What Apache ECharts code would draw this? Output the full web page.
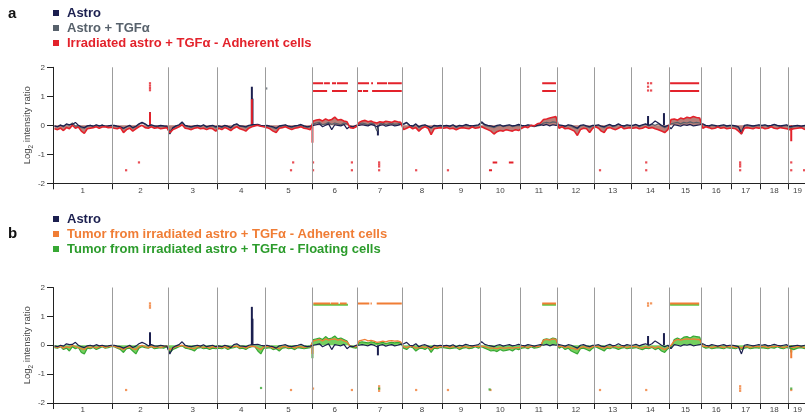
<!DOCTYPE html>
<html><head><meta charset="utf-8">
<script src="https://cdn.jsdelivr.net/npm/echarts@6/dist/echarts.min.js"></script>
<style>html,body{margin:0;padding:0;background:#fff}#c{width:805px;height:414px}</style>
</head><body><div id="c"></div>
<script>
// ---------- data ----------
const chromosomes = ['1','2','3','4','5','6','7','8','9','10','11','12','13','14','15','16','17','18','19'];
const chromLengthMb = [195,182,160,157,152,150,145,130,125,131,122,120,121,125,104,98,95,91,61];
const xMaxMb = 2458;
const yTickValues = [-2,-1,0,1,2];

// log2 ratio profiles, one list per chromosome (values spread evenly along each chromosome)
const astro = [
 [-0.02,-0.05,0.0,-0.03,0.05,0.02,0.03,0.1,0.0,-0.05,-0.08,-0.02,0.0,-0.03,0.02,-0.02,0.0,-0.03,-0.02,0.0],
 [0.0,-0.03,-0.05,-0.1,-0.05,0.0,-0.08,-0.03,0.05,0.1,0.05,-0.02,0.02,-0.02,-0.03,0.0,-0.02,-0.03],
 [-0.3,-0.08,-0.02,0.02,0.12,0.0,-0.03,-0.05,-0.02,0.0,-0.03,0.02,-0.05,-0.02,0.0,-0.05],
 [-0.02,-0.05,0.0,-0.03,-0.08,0.02,0.05,-0.02,-0.03,-0.05,0.0,0.02,0.02,0.03,0.0,-0.02],
 [0.0,-0.03,-0.05,-0.1,-0.02,0.0,0.02,-0.03,-0.05,-0.02,0.0,0.03,-0.02,-0.05,-0.03],
 [0.0,0.02,0.05,-0.05,0.0,0.05,-0.15,0.02,0.0,-0.02,0.03,-0.12,-0.03,-0.05,0.0],
 [0.0,0.02,0.0,-0.02,0.03,0.0,-0.05,0.0,0.02,-0.03,0.0,0.02,-0.02,0.0,0.03],
 [0.05,0.1,0.0,-0.02,0.05,-0.05,0.0,0.02,-0.03,-0.08,0.0,-0.02,0.0],
 [-0.02,0.0,-0.03,0.02,-0.05,0.0,-0.02,0.03,0.0,-0.02,0.0,0.02],
 [0.12,0.03,0.0,-0.02,-0.05,0.0,0.02,-0.03,0.0,0.02,-0.02,0.0,0.03],
 [0.0,-0.02,0.02,0.0,-0.03,0.0,0.02,0.0,0.03,-0.02,0.02,0.0],
 [0.02,0.0,-0.03,0.02,0.0,-0.05,-0.1,0.0,0.02,-0.02,-0.05,0.0],
 [0.0,0.02,-0.03,-0.05,0.0,0.03,-0.02,0.0,0.05,0.0,-0.02,0.02,0.0],
 [0.0,0.03,-0.02,0.02,0.05,0.0,0.05,0.15,0.08,0.0,-0.05,0.0],
 [-0.12,0.02,0.0,-0.03,0.02,0.0,0.03,-0.02,0.0,0.02],
 [0.05,0.0,-0.02,0.02,0.0,-0.03,0.0,0.02,-0.02,0.0],
 [0.0,-0.02,-0.05,-0.3,0.0,0.02,0.0,-0.02,0.0,0.02],
 [0.0,0.02,-0.02,0.0,0.03,0.0,-0.02,0.0,0.02],
 [-0.05,-0.02,0.0,-0.03,0.0]
];
const astroTgf = [
 [-0.03,-0.05,0.02,-0.05,0.03,0.0,0.08,-0.03,-0.02,-0.08,-0.1,-0.03,0.0,-0.05,0.0,-0.03,0.02,-0.05,-0.03,-0.02],
 [-0.02,-0.05,-0.08,-0.12,-0.05,-0.02,-0.1,-0.05,0.03,0.08,0.03,-0.03,0.0,-0.03,-0.05,-0.02,-0.03,-0.05],
 [-0.2,-0.1,-0.03,0.0,0.08,-0.02,-0.05,-0.08,-0.03,-0.02,-0.05,0.0,-0.08,-0.03,-0.02,-0.08],
 [-0.03,-0.08,-0.02,-0.05,-0.1,0.0,0.03,-0.03,-0.05,-0.08,-0.02,0.0,0.02,0.0,-0.03,-0.05],
 [-0.02,-0.05,-0.08,-0.12,-0.05,-0.02,0.0,-0.05,-0.08,-0.03,-0.02,0.0,-0.05,-0.08,-0.05],
 [0.05,0.08,0.1,0.02,0.05,0.1,0.03,0.08,0.05,0.02,0.08,0.05,-0.05,-0.08,-0.03],
 [0.05,0.08,0.05,0.02,0.08,0.05,-0.2,0.05,0.08,0.02,0.05,0.08,0.03,0.05,0.08],
 [0.03,0.08,-0.02,-0.05,0.03,-0.08,-0.02,0.0,-0.05,-0.1,-0.02,-0.05,-0.02],
 [-0.03,-0.02,-0.05,0.0,-0.08,-0.02,-0.03,0.0,-0.02,-0.05,-0.02,0.0],
 [0.08,0.0,-0.03,-0.05,-0.08,-0.03,0.0,-0.05,-0.02,0.0,-0.05,-0.02,0.0],
 [-0.02,-0.05,0.0,-0.02,-0.05,-0.02,0.0,0.08,0.1,0.08,0.12,0.1],
 [0.0,-0.02,-0.05,0.0,-0.03,-0.08,-0.12,-0.02,0.0,-0.05,-0.08,-0.02],
 [-0.02,0.0,-0.05,-0.08,-0.02,0.02,-0.05,-0.02,0.03,-0.02,-0.05,0.0,-0.02],
 [-0.02,0.02,-0.05,0.0,0.03,-0.02,0.03,0.0,0.05,-0.02,-0.08,-0.02],
 [0.05,0.08,0.1,0.05,0.1,0.08,0.12,0.08,0.1,0.08],
 [0.02,-0.02,-0.05,0.0,-0.02,-0.05,-0.02,0.0,-0.05,-0.02],
 [-0.02,-0.05,-0.08,-0.2,-0.02,0.0,-0.02,-0.05,-0.02,0.0],
 [-0.02,0.0,-0.05,-0.02,0.02,-0.02,-0.05,-0.02,0.0],
 [-0.08,-0.05,-0.02,-0.05,-0.02]
];
const irradAdherent = [
 [-0.12,-0.15,-0.1,-0.18,-0.08,-0.12,0.0,-0.1,-0.06,-0.2,-0.28,-0.12,-0.1,-0.08,-0.05,-0.1,-0.06,-0.05,-0.08,-0.07],
 [-0.1,-0.12,-0.08,-0.25,-0.15,-0.1,-0.2,-0.12,-0.05,0.0,-0.08,-0.1,-0.05,-0.1,-0.08,-0.12,-0.1,-0.08],
 [-0.25,-0.15,-0.1,-0.05,0.02,-0.1,-0.12,-0.15,-0.1,-0.08,-0.12,-0.1,-0.15,-0.1,-0.12,-0.2],
 [-0.1,-0.15,-0.08,-0.12,-0.18,-0.1,-0.05,-0.12,-0.15,-0.2,-0.1,-0.05,-0.02,0.0,-0.03,-0.05],
 [-0.08,-0.12,-0.2,-0.25,-0.1,-0.08,-0.05,-0.1,-0.15,-0.1,-0.08,-0.05,-0.1,-0.12,-0.15],
 [0.15,0.18,0.2,0.15,0.22,0.17,0.2,0.28,0.18,0.2,0.15,0.12,-0.08,-0.1,-0.05],
 [0.1,0.15,0.17,0.12,0.15,0.1,0.08,0.12,0.1,0.14,0.12,0.1,0.15,0.12,0.1],
 [-0.15,-0.1,-0.05,-0.12,-0.08,-0.2,-0.1,-0.05,-0.1,-0.32,-0.12,-0.1,-0.08],
 [-0.1,-0.08,-0.12,-0.1,-0.15,-0.1,-0.08,-0.1,-0.12,-0.06,-0.1,-0.08],
 [-0.05,-0.1,-0.15,-0.2,-0.3,-0.22,-0.18,-0.2,-0.15,-0.18,-0.2,-0.15,-0.18],
 [-0.1,-0.05,-0.08,0.0,-0.02,0.05,0.08,0.2,0.22,0.25,0.28,0.3],
 [-0.1,-0.05,-0.12,-0.1,-0.15,-0.2,-0.35,-0.15,-0.1,-0.12,-0.25,-0.1],
 [-0.05,-0.1,-0.2,-0.25,-0.1,-0.08,-0.12,-0.15,-0.1,-0.05,-0.12,-0.1,-0.08],
 [-0.1,-0.08,-0.12,-0.1,-0.05,-0.1,-0.08,-0.12,-0.15,-0.2,-0.25,-0.15],
 [0.2,0.22,0.18,0.25,0.22,0.28,0.25,0.3,0.27,0.25],
 [-0.1,-0.05,-0.08,-0.12,-0.1,-0.06,-0.1,-0.08,-0.12,-0.1],
 [-0.1,-0.12,-0.2,-0.3,-0.1,-0.08,-0.1,-0.12,-0.08,-0.1],
 [-0.08,-0.12,-0.1,-0.05,-0.1,-0.12,-0.08,-0.1,-0.12],
 [-0.15,-0.12,-0.1,-0.08,-0.15]
];
const tumorAdherent = [
 [-0.05,-0.08,-0.03,-0.1,-0.05,-0.08,0.0,-0.05,-0.08,-0.12,-0.15,-0.05,-0.08,-0.05,-0.1,-0.05,-0.03,-0.08,-0.05,-0.03],
 [-0.03,-0.08,-0.1,-0.15,-0.08,-0.05,-0.12,-0.15,-0.05,0.0,-0.05,-0.08,-0.03,-0.08,-0.05,-0.08,-0.05,-0.03],
 [-0.15,-0.1,-0.05,-0.03,0.0,-0.05,-0.08,-0.1,-0.12,-0.05,-0.05,-0.08,-0.05,-0.1,-0.05,-0.08],
 [-0.05,-0.08,-0.05,-0.1,-0.05,-0.05,-0.03,-0.08,-0.05,-0.1,-0.05,-0.03,-0.05,-0.1,-0.15,-0.05],
 [-0.05,-0.05,-0.1,-0.08,-0.12,-0.05,-0.05,-0.08,-0.05,-0.1,-0.05,-0.05,-0.08,-0.05,-0.05],
 [0.15,0.18,0.2,0.15,0.22,0.18,0.2,0.22,0.18,0.2,0.15,0.12,-0.03,-0.05,-0.05],
 [0.15,0.18,0.2,0.15,0.17,0.14,0.1,0.12,0.14,0.12,0.15,0.16,0.14,0.15,0.12],
 [-0.05,-0.08,-0.03,-0.05,-0.1,-0.08,-0.05,-0.08,-0.05,-0.15,-0.05,-0.08,-0.05],
 [-0.05,-0.05,-0.08,-0.05,-0.05,-0.1,-0.05,-0.05,-0.08,-0.05,-0.03,-0.05],
 [-0.03,-0.05,-0.08,-0.1,-0.1,-0.12,-0.08,-0.1,-0.1,-0.08,-0.1,-0.08,-0.08],
 [-0.05,-0.05,-0.08,-0.03,-0.05,-0.05,-0.03,0.18,0.2,0.18,0.22,0.2],
 [-0.05,-0.03,-0.08,-0.05,-0.1,-0.12,-0.15,-0.08,-0.05,-0.08,-0.1,-0.05],
 [-0.03,-0.05,-0.08,-0.1,-0.05,-0.08,-0.05,-0.05,-0.08,-0.05,-0.05,-0.08,-0.05],
 [-0.05,-0.05,-0.08,-0.1,-0.05,-0.08,-0.05,-0.1,-0.05,-0.1,-0.15,-0.08],
 [0.0,0.15,0.2,0.18,0.2,0.22,0.2,0.22,0.2,0.2],
 [-0.03,-0.05,-0.05,-0.08,-0.05,-0.05,-0.05,-0.08,-0.05,-0.05],
 [-0.05,-0.08,-0.05,-0.1,-0.05,-0.05,-0.08,-0.05,-0.05,-0.05],
 [-0.05,-0.05,-0.08,-0.05,-0.05,-0.03,-0.05,-0.08,-0.05],
 [-0.05,-0.08,-0.05,-0.05,-0.08]
];
const tumorFloating = [
 [-0.08,-0.1,-0.05,-0.15,-0.1,-0.2,-0.05,-0.12,-0.08,-0.25,-0.3,-0.1,-0.12,-0.08,-0.15,-0.1,-0.05,-0.1,-0.08,-0.05],
 [-0.05,-0.1,-0.15,-0.25,-0.12,-0.1,-0.2,-0.3,-0.1,-0.05,-0.08,-0.1,-0.05,-0.12,-0.1,-0.08,-0.1,-0.05],
 [-0.25,-0.15,-0.1,-0.05,-0.02,-0.1,-0.12,-0.15,-0.2,-0.1,-0.08,-0.12,-0.1,-0.15,-0.1,-0.12],
 [-0.1,-0.12,-0.08,-0.15,-0.1,-0.08,-0.05,-0.12,-0.1,-0.15,-0.08,-0.05,-0.05,-0.2,-0.3,-0.1],
 [-0.1,-0.08,-0.15,-0.12,-0.2,-0.1,-0.08,-0.12,-0.1,-0.15,-0.08,-0.1,-0.12,-0.1,-0.08],
 [0.2,0.22,0.25,0.2,0.3,0.22,0.25,0.32,0.22,0.25,0.2,0.15,-0.05,-0.08,-0.1],
 [0.1,0.12,0.1,0.08,0.12,0.1,0.05,0.08,0.1,0.06,0.08,0.1,0.08,0.1,0.08],
 [-0.1,-0.15,-0.05,-0.08,-0.2,-0.12,-0.1,-0.15,-0.08,-0.25,-0.1,-0.12,-0.08],
 [-0.08,-0.1,-0.12,-0.1,-0.08,-0.15,-0.1,-0.08,-0.12,-0.1,-0.05,-0.1],
 [-0.05,-0.1,-0.15,-0.2,-0.18,-0.22,-0.15,-0.2,-0.18,-0.15,-0.2,-0.12,-0.15],
 [-0.1,-0.08,-0.12,-0.05,-0.1,-0.08,-0.05,0.2,0.22,0.2,0.25,0.22],
 [-0.1,-0.05,-0.15,-0.1,-0.2,-0.25,-0.3,-0.12,-0.1,-0.15,-0.2,-0.1],
 [-0.05,-0.1,-0.15,-0.2,-0.1,-0.12,-0.08,-0.1,-0.15,-0.1,-0.08,-0.12,-0.1],
 [-0.1,-0.08,-0.12,-0.15,-0.1,-0.12,-0.08,-0.15,-0.1,-0.2,-0.25,-0.12],
 [-0.1,0.2,0.25,0.2,0.28,0.3,0.25,0.32,0.3,0.28],
 [-0.05,-0.1,-0.08,-0.12,-0.1,-0.08,-0.1,-0.12,-0.08,-0.1],
 [-0.1,-0.12,-0.08,-0.15,-0.1,-0.08,-0.12,-0.1,-0.08,-0.1],
 [-0.08,-0.1,-0.12,-0.08,-0.1,-0.05,-0.1,-0.12,-0.08],
 [-0.1,-0.15,-0.1,-0.08,-0.12]
];

// narrow focal spikes [Mb, log2 ratio]
const astroSpikes = [[317,0.45],[650,1.33],[652,0.92],[1062,-0.35],[1945,0.32],[1997,0.42]];
const irradAdherentSpikes = [[317,0.45],[650,0.9],[848,-0.6],[2413,-0.55]];
const tumorAdherentSpikes = [[848,-0.3],[2413,-0.45]];
const tumorFloatingSpikes = [[848,-0.45],[2413,-0.25]];

// aberration call markers: segments [startMb, endMb] and dots [Mb, level]
const irradGainLevels = [1.45, 1.18];
const irradGainRow1 = [[850,883],[886,905],[912,925],[928,964],[997,1033],[1040,1046],[1059,1092],[1095,1140],[1599,1644],[2017,2112]];
const irradGainRow2 = [[850,896],[912,961],[997,1010],[1013,1030],[1043,1140],[1599,1644],[2017,2112]];
const irradGainDots = [[317,1.45],[317,1.37],[317,1.29],[317,1.21],[1945,1.45],[1945,1.33],[1945,1.2],[1955,1.45],[1955,1.2]];
const irradLossLevels = [-1.28, -1.55];
const irradLossRow1 = [[1437,1452],[1490,1505]];
const irradLossRow2 = [[1425,1435]];
const irradLossDots = [[281,-1.28],[239,-1.55],[785,-1.28],[778,-1.55],[850,-1.28],[850,-1.55],[977,-1.28],[977,-1.55],[1066,-1.28],[1066,-1.35],[1066,-1.42],[1066,-1.55],[1187,-1.55],[1291,-1.55],[1788,-1.55],[1939,-1.28],[1939,-1.55],[2246,-1.28],[2246,-1.35],[2246,-1.42],[2246,-1.55],[2413,-1.28],[2413,-1.55],[2455,-1.55]];
const astroTgfDots = [[697,1.27]];

const tumorAdhGainLevel = 1.45;
const tumorAdhGain = [[851,906],[908,933],[938,960],[996,1034],[1038,1042],[1058,1140],[1599,1644],[2017,2112]];
const tumorFloatGainLevel = 1.40;
const tumorFloatGain = [[851,964],[1599,1644],[2017,2112]];
const tumorAdhDots = [[317,1.45],[317,1.37],[317,1.3],[1945,1.45],[1945,1.37],[1955,1.45],
 [239,-1.55],[778,-1.55],[850,-1.5],[977,-1.55],[1066,-1.42],[1066,-1.5],[1066,-1.58],[1187,-1.55],[1291,-1.55],[1430,-1.55],[1788,-1.55],[1939,-1.55],[2246,-1.42],[2246,-1.5],[2246,-1.58],[2413,-1.55]];
const tumorFloatDots = [[680,-1.48],[1427,-1.53],[1066,-1.5],[2413,-1.5]];

// ---------- build ----------
const FONT = '"Liberation Sans", Arial, sans-serif';
const NAVY='#1b1f4f', GREY='#57616b', RED='#e3222b', RED_FILL='#8a2c22', ORANGE='#f07d35', GREEN='#37a834', GREEN_FILL='#5cc843', GREEN_TEXT='#2c9c2c', VLINE='#9c9c9c';
const NAME_ASTRO='Astro', NAME_TGF='Astro + TGFα', NAME_IRR='Irradiated astro + TGFα - Adherent cells';
const NAME_TADH='Tumor from irradiated astro + TGFα - Adherent cells', NAME_TFLO='Tumor from irradiated astro + TGFα - Floating cells';

const chromStartMb = []; { let acc=0; chromLengthMb.forEach(l=>{chromStartMb.push(acc); acc+=l;}); }
const innerBounds = chromStartMb.slice(1);
const centers = chromStartMb.map((s,i)=>s+chromLengthMb[i]/2);

function profile(perChrom){
  const pts=[];
  perChrom.forEach((vals,k)=>{ const s=chromStartMb[k], L=chromLengthMb[k];
    vals.forEach((v,j)=>pts.push([s+(j+0.5)*L/vals.length, v])); });
  return pts;
}
function segData(segs, level){ const d=[]; segs.forEach(([a,b])=>{ d.push([a,level],[b,level],[b,'-']); }); return d; }
function labelFor(v){ let best=0; centers.forEach((c,i)=>{ if(Math.abs(c-v)<Math.abs(centers[best]-v)) best=i; }); return chromosomes[best]; }

function lineS(name, g, data, color, width, area){
  const s={type:'line', name, xAxisIndex:g, yAxisIndex:g, data, showSymbol:false, symbol:'none', silent:true,
    lineStyle:{color, width}, itemStyle:{color}, animation:false, sampling:null};
  if(area) s.areaStyle={color:area.color, opacity:area.opacity};
  return s;
}
function spikeS(name, g, data, color){
  return {type:'bar', name, xAxisIndex:g, yAxisIndex:g, data, barWidth:2, barGap:'-100%', silent:true, itemStyle:{color}, animation:false};
}
function segS(name, g, segs, level, color, width){
  return {type:'line', name, xAxisIndex:g, yAxisIndex:g, data:segData(segs, level), showSymbol:false, symbol:'none', connectNulls:false, silent:true,
    lineStyle:{color, width}, itemStyle:{color}, animation:false};
}
function dotS(name, g, data, color){
  return {type:'scatter', name, xAxisIndex:g, yAxisIndex:g, data, symbol:'rect', symbolSize:[2.2,2.2], silent:true, itemStyle:{color}, animation:false};
}
const vlines = {silent:true, symbol:'none', label:{show:false}, lineStyle:{color:VLINE, width:1, type:'solid'}, data: innerBounds.map(v=>({xAxis:v})), animation:false};

function xAx(g){
  return {type:'value', gridIndex:g, min:0, max:xMaxMb,
    axisLine:{show:true, onZero:false, lineStyle:{color:'#222', width:1}},
    axisTick:{show:true, customValues: chromStartMb, length:6, lineStyle:{color:'#222'}},
    axisLabel:{show:true, customValues: centers, formatter:v=>labelFor(v), fontSize:8, color:'#444', margin:3, fontFamily:FONT},
    splitLine:{show:false}};
}
function yAx(g){
  return {type:'value', gridIndex:g, min:-2, max:2, interval:1,
    axisLine:{show:true, onZero:false, lineStyle:{color:'#222', width:1}},
    axisTick:{show:true, length:6, lineStyle:{color:'#222'}},
    axisLabel:{fontSize:8, color:'#444', margin:8, fontFamily:FONT, customValues: yTickValues},
    splitLine:{show:false},
    name:'Log{s|2} intensity ratio', nameLocation:'middle', nameGap:21, nameMoveOverlap:false,
    nameTextStyle:{fontSize:9.5, color:'#444', fontFamily:FONT, rich:{s:{fontSize:6.5, color:'#444', fontFamily:FONT, verticalAlign:'bottom', padding:[0,0,-3,0]}}}};
}
function legend(top, items){
  return {left:53, top, orient:'vertical', padding:0, itemGap:0, itemWidth:6, itemHeight:6, icon:'rect', selectedMode:false,
    textStyle:{fontSize:13, fontWeight:'bold', fontFamily:FONT, lineHeight:15, padding:[0,0,0,3]},
    data: items.map(([n,c,tc])=>({name:n, itemStyle:{color:c}, textStyle:{color:tc||c}}))};
}

const option = {
  backgroundColor:'#fff', animation:false,
  title:[
    {text:'a', left:8, top:6, padding:0, textStyle:{fontSize:15, fontWeight:'bold', color:'#111', fontFamily:FONT}},
    {text:'b', left:8, top:226, padding:0, textStyle:{fontSize:15, fontWeight:'bold', color:'#111', fontFamily:FONT}}
  ],
  legend:[
    legend(5.5, [[NAME_ASTRO,NAVY],[NAME_TGF,GREY],[NAME_IRR,RED]]),
    legend(211.5, [[NAME_ASTRO,NAVY],[NAME_TADH,ORANGE],[NAME_TFLO,GREEN,GREEN_TEXT]])
  ],
  grid:[
    {left:53, right:0, top:67.3, height:116},
    {left:53, right:0, top:287.5, height:116}
  ],
  xAxis:[xAx(0), xAx(1)],
  yAxis:[yAx(0), yAx(1)],
  series:[
    Object.assign(lineS(NAME_TGF,0,profile(astroTgf),GREY,1.2), {markLine:vlines}),
    lineS(NAME_ASTRO,0,profile(astro),NAVY,1.2),
    spikeS(NAME_ASTRO,0,astroSpikes,NAVY),
    lineS(NAME_IRR,0,profile(irradAdherent),RED,1.6,{color:RED_FILL, opacity:0.6}),
    spikeS(NAME_IRR,0,irradAdherentSpikes,RED),
    segS(NAME_IRR,0,irradGainRow1,irradGainLevels[0],RED,2),
    segS(NAME_IRR,0,irradGainRow2,irradGainLevels[1],RED,2),
    segS(NAME_IRR,0,irradLossRow1,irradLossLevels[0],RED,2),
    segS(NAME_IRR,0,irradLossRow2,irradLossLevels[1],RED,2),
    dotS(NAME_IRR,0,irradGainDots,RED),
    dotS(NAME_IRR,0,irradLossDots,RED),
    dotS(NAME_TGF,0,astroTgfDots,GREY),

    Object.assign(lineS(NAME_TFLO,1,profile(tumorFloating),GREEN,1.2,{color:GREEN_FILL, opacity:0.85}), {markLine:vlines}),
    spikeS(NAME_TFLO,1,tumorFloatingSpikes,GREEN),
    lineS(NAME_TADH,1,profile(tumorAdherent),ORANGE,1.3),
    spikeS(NAME_TADH,1,tumorAdherentSpikes,ORANGE),
    lineS(NAME_ASTRO,1,profile(astro),NAVY,1.2),
    spikeS(NAME_ASTRO,1,astroSpikes,NAVY),
    segS(NAME_TFLO,1,tumorFloatGain,tumorFloatGainLevel,GREEN_FILL,2),
    segS(NAME_TADH,1,tumorAdhGain,tumorAdhGainLevel,ORANGE,2),
    dotS(NAME_TADH,1,tumorAdhDots,ORANGE),
    dotS(NAME_TFLO,1,tumorFloatDots,GREEN)
  ]
};
const chart = echarts.init(document.getElementById('c'), null, {renderer:'canvas'});
chart.setOption(option);
</script></body></html>
